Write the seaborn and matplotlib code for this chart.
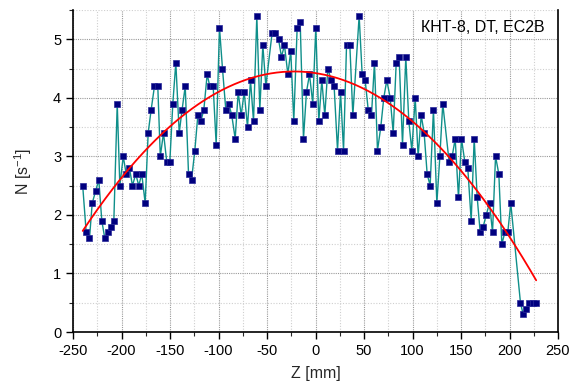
import numpy as np
import pandas as pd
import matplotlib
matplotlib.use("Agg")
import matplotlib.pyplot as plt
import seaborn as sns
from matplotlib.ticker import MultipleLocator

# Scan position along the chamber axis, mm
z_mm = [
    -240.0, -236.4, -233.0, -230.2, -226.8, -223.4, -220.3, -217.2, -214.1, -211.0,
    -207.9, -204.4, -201.7, -198.2, -195.2, -191.8, -188.7, -185.3, -182.2, -179.1,
    -175.6, -172.5, -169.4, -166.0, -162.6, -160.0, -156.7, -153.3, -150.2, -147.1,
    -144.0, -140.5, -137.5, -134.3, -130.9, -127.8, -124.4, -121.3, -118.2, -115.1,
    -111.7, -109.0, -105.5, -102.4, -99.0, -95.9, -92.5, -89.4, -86.3, -82.8,
    -79.7, -76.6, -73.5, -70.1, -67.0, -63.9, -60.5, -57.4, -54.3, -51.2,
    -44.8, -41.5, -38.1, -35.1, -32.0, -28.5, -25.5, -22.4, -18.9, -15.8,
    -12.4, -9.3, -6.2, -2.8, 0.3, 3.4, 6.5, 9.6, 12.7, 16.2,
    19.2, 22.7, 25.8, 28.9, 32.0, 35.4, 38.5, 45.0, 48.1, 51.2,
    54.3, 57.7, 60.8, 63.9, 67.3, 70.4, 73.5, 77.0, 80.1, 83.2,
    86.2, 89.7, 93.1, 96.2, 99.3, 102.8, 105.8, 109.0, 112.0, 115.1,
    118.2, 121.6, 125.1, 128.2, 131.2, 137.8, 140.9, 144.0, 147.4, 150.5,
    154.0, 157.0, 160.5, 163.6, 166.7, 169.8, 172.9, 176.0, 179.4, 182.5,
    185.6, 189.0, 192.1, 195.2, 198.2, 201.3, 211.3, 214.1, 217.5, 220.6,
    224.0, 227.5,
]

# Count rate, 1/s
rate = [
    2.5, 1.7, 1.6, 2.2, 2.4, 2.6, 1.9, 1.6, 1.7, 1.8,
    1.9, 3.9, 2.5, 3.0, 2.7, 2.8, 2.5, 2.7, 2.5, 2.7,
    2.2, 3.4, 3.8, 4.2, 4.2, 3.0, 3.4, 2.9, 2.9, 3.9,
    4.6, 3.4, 3.8, 4.2, 2.7, 2.6, 3.1, 3.7, 3.6, 3.8,
    4.4, 4.2, 4.2, 3.2, 5.2, 4.5, 3.8, 3.9, 3.7, 3.3,
    4.1, 3.7, 4.1, 3.5, 4.3, 3.6, 5.4, 3.8, 4.9, 4.2,
    5.1, 5.1, 5.0, 4.7, 4.9, 4.4, 4.8, 3.6, 5.2, 5.3,
    3.3, 4.1, 4.4, 3.9, 5.2, 3.6, 4.3, 3.7, 4.5, 4.3,
    4.2, 3.1, 4.1, 3.1, 4.9, 4.9, 3.7, 5.4, 4.4, 4.3,
    3.8, 3.7, 4.6, 3.1, 3.5, 4.0, 4.3, 4.0, 3.4, 4.6,
    4.7, 3.2, 4.7, 3.6, 3.1, 4.0, 3.0, 3.7, 3.4, 2.7,
    2.5, 3.8, 2.2, 3.0, 3.9, 2.9, 3.0, 3.3, 2.3, 3.3,
    2.9, 2.8, 1.9, 3.3, 2.3, 1.7, 1.8, 2.0, 2.2, 1.7,
    3.0, 2.7, 1.5, 1.7, 1.7, 2.2, 0.5, 0.3, 0.4, 0.5,
    0.5, 0.5,
]

# Parabolic fit: vertex position, vertex height and curvature
fit_z0 = -22.0
fit_peak = 4.45
fit_curv = -5.73e-5

x_ticks = [-250, -200, -150, -100, -50, 0, 50, 100, 150, 200, 250]
y_ticks = [0, 1, 2, 3, 4, 5]
label_text = "КНТ-8, DT, EC2B"

sns.set_theme(style="ticks")
plt.rcParams["font.family"] = ["Liberation Sans", "DejaVu Sans"]
plt.rcParams["axes.unicode_minus"] = False
plt.rcParams["mathtext.default"] = "regular"

fig = plt.figure(figsize=(5.71, 3.85), dpi=100)
ax = fig.add_axes([73 / 571, 1 - 332 / 385, 485 / 571, 322 / 385])

df = pd.DataFrame({"z": z_mm, "N": rate})

# measured profile
sns.lineplot(data=df, x="z", y="N", ax=ax, sort=False, estimator=None,
             color="#0f8f8a", lw=1.0, marker="s", markersize=4.4,
             markerfacecolor="#00007f", markeredgecolor="#2a2a9a",
             markeredgewidth=0.5, zorder=3)

# fitted curve over the scanned range
zf = np.linspace(df["z"].min(), df["z"].max(), 300)
fit = pd.DataFrame({"z": zf, "N": fit_peak + fit_curv * (zf - fit_z0) ** 2})
sns.lineplot(data=fit, x="z", y="N", ax=ax, color="red", lw=1.3, zorder=4)

ax.set_xlim(-250, 250)
ax.set_ylim(0, 5.5)
ax.set_xticks(x_ticks)
ax.set_yticks(y_ticks)
ax.xaxis.set_minor_locator(MultipleLocator(25))
ax.yaxis.set_minor_locator(MultipleLocator(0.5))

ax.grid(True, which="major", color="#9a9a9a", linestyle=(0, (1, 1)), lw=0.8)
ax.grid(True, which="minor", color="#cfcfcf", linestyle=(0, (1, 1.5)), lw=0.8)
ax.set_axisbelow(True)

for side in ["left", "right", "bottom"]:
    ax.spines[side].set_visible(True)
    ax.spines[side].set_color("black")
    ax.spines[side].set_linewidth(1.2)
ax.spines["top"].set_visible(False)

ax.tick_params(which="major", direction="out", length=5, width=1.0,
               labelsize=10.5, colors="black", top=False, right=False)
ax.tick_params(which="minor", direction="out", length=3, width=0.8,
               top=False, right=False)

ax.set_xlabel("Z [mm]", fontsize=11.5, labelpad=6)
ax.set_ylabel("N [s$^{-1}$]", fontsize=11.5, labelpad=14)

ax.text(0.973, 0.97, label_text, transform=ax.transAxes, ha="right",
        va="top", fontsize=11.5, color="black")

fig.savefig("out.png", dpi=100)
